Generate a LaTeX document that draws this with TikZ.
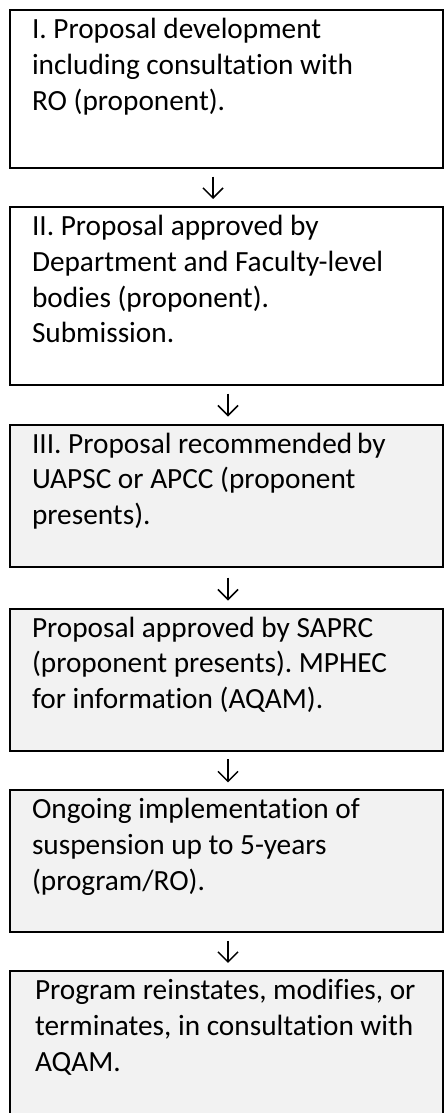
\documentclass[tikz,border=0pt]{standalone}
\usepackage{fontspec}
\setmainfont{Carlito}[Ligatures=NoCommon]
\usetikzlibrary{arrows.meta}
\usetikzlibrary{positioning}

\definecolor{stagefill}{HTML}{F2F2F2}
\newcommand{\stagefont}{\fontsize{29.3pt}{35.8pt}\selectfont\frenchspacing}
\newcommand{\stagetext}[2]{\parbox[t][#1][t]{389pt}{\raggedright\strut #2}}

\begin{document}
\begin{tikzpicture}[x=1pt, y=-1pt,
    stage/.style={draw, line width=2pt, inner xsep=22pt, inner ysep=3.5pt, font=\stagefont},
    shaded/.style={stage, fill=stagefill},
    flow/.style={-{Straight Barb[length=10pt,width=20pt,line width=1.5pt]}, line width=1.5pt,
        shorten <=7.5pt, shorten >=7pt}]

    \useasboundingbox (0,0) rectangle (446,1113);
    \clip (0,0) rectangle (446,1113);

    % etapas
    \node[stage, anchor=north west] (s1) at (9,9)
        {\stagetext{151pt}{I. Proposal development\\ including consultation with\\ RO (proponent).}};
    \node[stage, below=37pt of s1] (s2)
        {\stagetext{171pt}{II. Proposal approved by\\ Department and Faculty-level\\ bodies (proponent).\\ Submission.}};
    \node[shaded, below=37.5pt of s2] (s3)
        {\stagetext{135pt}{III. Proposal recommended\,by\\ UAPSC or APCC (proponent\\ presents).}};
    \node[shaded, below=40pt of s3] (s4)
        {\stagetext{135.4pt}{Proposal approved by SAPRC\\ (proponent presents). MPHEC\\ for information (AQAM).}};
    \node[shaded, below=37.5pt of s4] (s5)
        {\stagetext{135pt}{Ongoing implementation of\\ suspension up to 5-years\\ (program/RO).}};
    \node[shaded, below=36.5pt of s5] (s6)
        {\stagetext{146pt}{\hspace*{3pt}Program reinstates, modifies, or\\ \hspace*{3pt}terminates, in consultation with\\ \hspace*{3pt}AQAM.}};

    % setas
    \draw[flow] ([xshift=-13.5pt]s1.south) -- ([xshift=-13.5pt]s2.north);
    \draw[flow] ([xshift=1.5pt]s2.south) -- ([xshift=1.5pt]s3.north);
    \draw[flow, shorten <=10pt] ([xshift=1.5pt]s3.south) -- ([xshift=1.5pt]s4.north);
    \draw[flow] ([xshift=1.5pt]s4.south) -- ([xshift=1.5pt]s5.north);
    \draw[flow] ([xshift=1.5pt]s5.south) -- ([xshift=1.5pt]s6.north);
\end{tikzpicture}
\end{document}
